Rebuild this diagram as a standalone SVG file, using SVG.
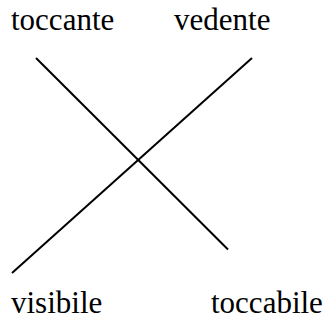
<svg xmlns="http://www.w3.org/2000/svg" width="325" height="327" viewBox="0 0 325 327">
<style>
.t{font-family:"Liberation Serif","Times New Roman",serif;font-size:31px;fill:#000}
.c{stroke:#000;stroke-width:2;fill:none}
</style>
<rect width="325" height="327" fill="#fff"/>
<g id="connectors">
<line class="c" x1="36" y1="58" x2="228" y2="249.5"/>
<line class="c" x1="252" y1="58" x2="12" y2="273"/>
</g>
<g id="toccante"><text class="t" x="11" y="30">toccante</text></g>
<g id="vedente"><text class="t" x="174" y="30">vedente</text></g>
<g id="visibile"><text class="t" x="11" y="313">visibile</text></g>
<g id="toccabile"><text class="t" x="211" y="313">toccabile</text></g>
</svg>
